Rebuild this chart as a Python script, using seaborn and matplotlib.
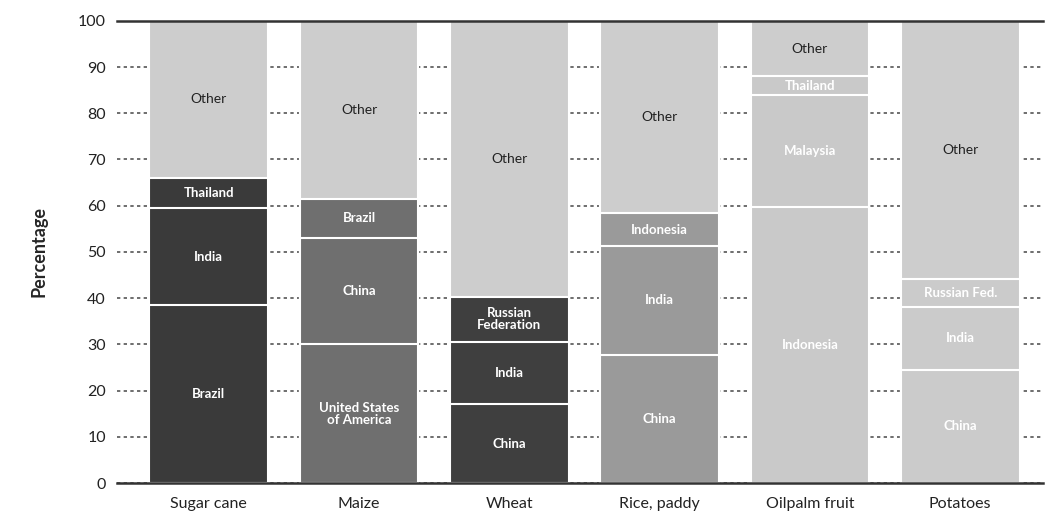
import numpy as np
import seaborn as sns
import matplotlib.pyplot as plt


# =========================================================
# DATA
# =========================================================

crops = ["Sugar cane", "Maize", "Wheat", "Rice, paddy", "Oilpalm fruit", "Potatoes"]

# three leading producers per crop, bottom to top (percent of world output)
producer_names = [
    ["Brazil", "India", "Thailand"],
    ["United States\nof America", "China", "Brazil"],
    ["China", "India", "Russian\nFederation"],
    ["China", "India", "Indonesia"],
    ["Indonesia", "Malaysia", "Thailand"],
    ["China", "India", "Russian Fed."],
]
producer_shares = [
    [38.5, 21.0, 6.5],
    [30.0, 23.0, 8.5],
    [17.0, 13.5, 9.8],
    [27.8, 23.5, 7.1],
    [59.8, 24.2, 4.0],
    [24.5, 13.6, 6.1],
]

bar_colors = ["#3a3a3a", "#6f6f6f", "#3f3f3f", "#9a9a9a", "#c9c9c9", "#cbcbcb"]
other_color = "#cdcdcd"


# =========================================================
# PLOT
# =========================================================

sns.set_style("white")
plt.rcParams["font.family"] = ["Lato", "DejaVu Sans"]

fig = plt.figure(figsize=(10.45, 5.2), dpi=100)
ax = fig.add_axes([0.112, 0.071, 0.886, 0.889])

shares = np.array(producer_shares)
tops = np.cumsum(shares, axis=1)
bottoms = tops - shares

# draw cumulative layers from the top down so each covers the one above
layers = [np.full(len(crops), 100.0)] + [tops[:, i] for i in (2, 1, 0)]
for k, layer in enumerate(layers):
    palette = [other_color] * len(crops) if k == 0 else bar_colors
    sns.barplot(x=crops, y=layer, hue=crops, palette=palette, legend=False,
                width=0.79, saturation=1, edgecolor="white", linewidth=1.5,
                ax=ax, zorder=3)

# segment labels
for i in range(len(crops)):
    for j in range(3):
        mid = bottoms[i, j] + shares[i, j] / 2
        ax.text(i, mid, producer_names[i][j], ha="center", va="center",
                color="white", fontsize=9.5, fontweight="bold",
                linespacing=1.0, zorder=5)
    ax.text(i, (tops[i, 2] + 100) / 2, "Other", ha="center", va="center",
            color="#222222", fontsize=10, zorder=5)

# axes styling
ax.set_ylim(0, 100)
ax.set_xlim(-0.61, 5.55)
ax.set_yticks(range(0, 101, 10))
ax.yaxis.grid(True, linestyle=(0, (2, 2)), color="#555555", linewidth=1.2)
ax.set_axisbelow(True)
for side in ("left", "right"):
    ax.spines[side].set_visible(False)
for side in ("top", "bottom"):
    ax.spines[side].set_color("#333333")
    ax.spines[side].set_linewidth(1.8)
    ax.spines[side].set_zorder(6)
ax.tick_params(axis="both", length=0, labelsize=11.5, labelcolor="#222222")
ax.tick_params(axis="y", pad=8)
ax.tick_params(axis="x", pad=10)
ax.set_xlabel("")
ax.set_ylabel("Percentage", fontsize=13, fontweight="bold", labelpad=22)

fig.savefig("out.png", dpi=100)
